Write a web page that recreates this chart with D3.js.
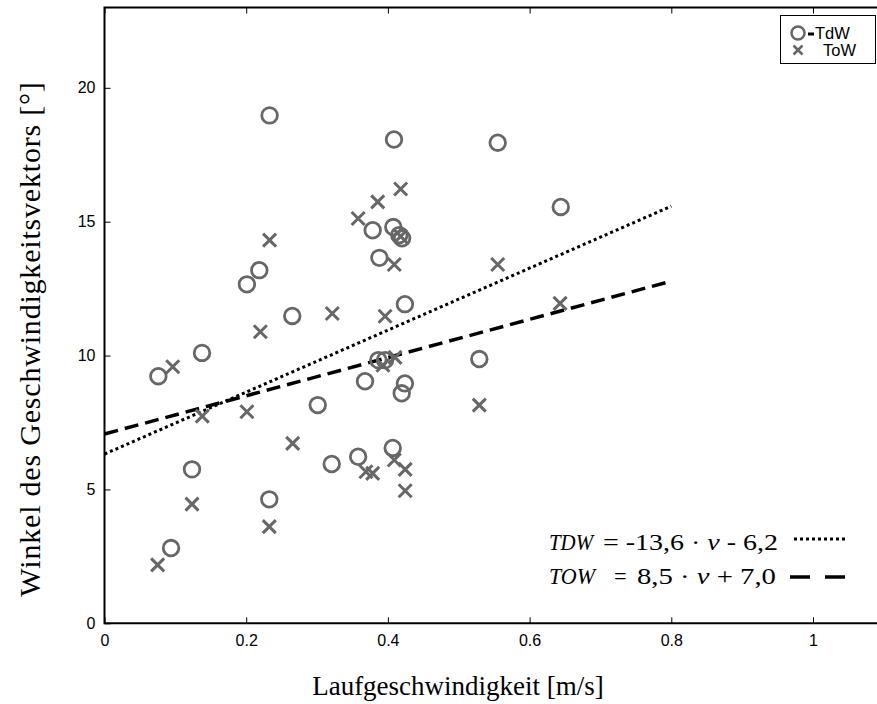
<!doctype html>
<html>
<head>
<meta charset="utf-8"/>
<title>Winkel des Geschwindigkeitsvektors</title>
<script src="https://d3js.org/d3.v7.min.js"></script>
<style>
  body { margin: 0; background: #fff; }
</style>
</head>
<body>
<div id="chart"></div>
<script>
  // TdW (Kreise): Laufgeschwindigkeit [m/s], Winkel [°]
  var tdwV = [0.233, 0.2185, 0.201, 0.4086, 0.555, 0.3785, 0.4076, 0.416, 0.420, 0.644,
              0.388, 0.424, 0.265, 0.1376, 0.076, 0.301, 0.3207, 0.1235, 0.2326, 0.0939,
              0.3865, 0.396, 0.529, 0.3677, 0.424, 0.4195, 0.358, 0.4068];
  var tdwW = [18.97, 13.19, 12.66, 18.07, 17.95, 14.68, 14.80, 14.50, 14.38, 15.55,
              13.65, 11.92, 11.48, 10.10, 9.23, 8.15, 5.95, 5.75, 4.63, 2.81,
              9.83, 9.83, 9.87, 9.04, 8.96, 8.59, 6.22, 6.55];

  // ToW (Kreuze)
  var towV = [0.233, 0.418, 0.3856, 0.358, 0.409, 0.555, 0.643, 0.3215, 0.22, 0.0963,
              0.138, 0.201, 0.2656, 0.1235, 0.2326, 0.075, 0.396, 0.41, 0.393, 0.529,
              0.369, 0.3785, 0.4244, 0.4244, 0.409, 0.418];
  var towW = [14.31, 16.22, 15.74, 15.12, 13.40, 13.40, 11.95, 11.57, 10.89, 9.58,
              7.74, 7.90, 6.72, 4.45, 3.61, 2.18, 11.47, 9.93, 9.64, 8.15,
              5.66, 5.60, 5.75, 4.95, 6.10, 14.45];

  // Regressionsgeraden (Endpunkte wie im Bild)
  var fitV = [0, 0.8];
  var tdwFit = [6.32, 15.58];
  var towFit = [7.07, 12.78];

  var xTicks = [0, 0.2, 0.4, 0.6, 0.8, 1];
  var yTicks = [0, 5, 10, 15, 20];

  var W = 877, H = 704;
  var mLeft = 104.5, mTop = 7.5, mBottom = 623.3;
  var grau = "#676767";

  var svg = d3.select("#chart").append("svg")
      .attr("width", W)
      .attr("height", H);

  var x = d3.scaleLinear().domain([0, 1.1]).range([mLeft, mLeft + 1.1 * 708.5]);
  var y = d3.scaleLinear().domain([0, 23]).range([mBottom, mTop]);

  // Achsen (Ticks nach innen)
  var ax = svg.append("g")
      .attr("transform", "translate(0," + mBottom + ")")
      .call(d3.axisBottom(x).tickValues(xTicks).tickSizeInner(-6).tickSizeOuter(0).tickPadding(9)
            .tickFormat(function(d) { return d3.format("~g")(d); }));
  var axTop = svg.append("g")
      .attr("transform", "translate(0," + mTop + ")")
      .call(d3.axisTop(x).tickValues(xTicks).tickSizeInner(-6).tickSizeOuter(0).tickFormat(""));
  var ay = svg.append("g")
      .attr("transform", "translate(" + mLeft + ",0)")
      .call(d3.axisLeft(y).tickValues(yTicks).tickSizeInner(-6).tickSizeOuter(0).tickPadding(9));

  [ax, axTop, ay].forEach(function(g) {
    g.attr("font-size", null).attr("font-family", null);
    g.select(".domain").remove();
    g.selectAll("line").attr("stroke", "#000").attr("stroke-width", 1);
    g.selectAll("text")
      .attr("font-family", "Liberation Sans, Arial, sans-serif")
      .attr("font-size", 16)
      .attr("fill", "#000");
  });
  ax.selectAll("text").attr("dy", "0.85em");

  // Rahmen
  svg.append("path")
    .attr("d", "M" + x(1.1) + "," + mTop + "H" + mLeft + "V" + mBottom + "H" + x(1.1))
    .attr("fill", "none")
    .attr("stroke", "#000")
    .attr("stroke-width", 2);

  // Regressionslinien
  var line = d3.line()
      .x(function(d) { return x(d[0]); })
      .y(function(d) { return y(d[1]); });

  svg.append("path")
    .datum(fitV.map(function(v, i) { return [v, tdwFit[i]]; }))
    .attr("d", line)
    .attr("fill", "none")
    .attr("stroke", "#000")
    .attr("stroke-width", 3)
    .attr("stroke-dasharray", "3,3");

  svg.append("path")
    .datum(fitV.map(function(v, i) { return [v, towFit[i]]; }))
    .attr("d", line)
    .attr("fill", "none")
    .attr("stroke", "#000")
    .attr("stroke-width", 3.5)
    .attr("stroke-dasharray", "14,7");

  // Kreise (TdW)
  svg.append("g").selectAll("circle")
    .data(tdwV)
    .enter().append("circle")
    .attr("cx", function(d) { return x(d); })
    .attr("cy", function(d, i) { return y(tdwW[i]); })
    .attr("r", 7.8)
    .attr("fill", "none")
    .attr("stroke", grau)
    .attr("stroke-width", 2.8);

  // Kreuze (ToW)
  function kreuz(g, cx, cy, s, sw) {
    g.append("path")
      .attr("d", "M" + (cx - s) + "," + (cy - s) + "L" + (cx + s) + "," + (cy + s) +
                 "M" + (cx - s) + "," + (cy + s) + "L" + (cx + s) + "," + (cy - s))
      .attr("stroke", grau)
      .attr("stroke-width", sw)
      .attr("fill", "none");
  }
  var gk = svg.append("g");
  towV.forEach(function(v, i) { kreuz(gk, x(v), y(towW[i]), 6.5, 3); });

  // Legende
  var lg = svg.append("g");
  lg.append("rect")
    .attr("x", 780.5).attr("y", 15.5).attr("width", 95).attr("height", 48)
    .attr("fill", "#fff").attr("stroke", "#000").attr("stroke-width", 1);
  lg.append("circle")
    .attr("cx", 798).attr("cy", 33).attr("r", 6.5)
    .attr("fill", "none").attr("stroke", grau).attr("stroke-width", 2.5);
  lg.append("line")
    .attr("x1", 808).attr("x2", 814).attr("y1", 34).attr("y2", 34)
    .attr("stroke", "#000").attr("stroke-width", 3);
  kreuz(lg, 798, 50, 4.5, 2.5);
  lg.append("text").attr("x", 815).attr("y", 39).text("TdW");
  lg.append("text").attr("x", 823).attr("y", 56).text("ToW");
  lg.selectAll("text")
    .attr("font-family", "Liberation Sans, Arial, sans-serif")
    .attr("font-size", 16.5);

  // Gleichungen
  var serif = "Liberation Serif, Times New Roman, serif";
  var eq = svg.append("g").attr("font-family", serif).attr("font-size", 22.5);

  eq.append("text").attr("x", 549).attr("y", 550)
    .attr("font-style", "italic")
    .attr("textLength", 44).attr("lengthAdjust", "spacingAndGlyphs")
    .text("TDW");
  var t1 = eq.append("text").attr("x", 603).attr("y", 550)
    .attr("textLength", 175).attr("lengthAdjust", "spacingAndGlyphs");
  t1.append("tspan").text("= -13,6 · ");
  t1.append("tspan").attr("font-style", "italic").text("v");
  t1.append("tspan").text(" - 6,2");

  eq.append("text").attr("x", 549).attr("y", 584)
    .attr("font-style", "italic")
    .attr("textLength", 46).attr("lengthAdjust", "spacingAndGlyphs")
    .text("TOW");
  eq.append("text").attr("x", 614).attr("y", 584).text("=");
  var t2 = eq.append("text").attr("x", 637).attr("y", 584)
    .attr("textLength", 139).attr("lengthAdjust", "spacingAndGlyphs");
  t2.append("tspan").text("8,5 · ");
  t2.append("tspan").attr("font-style", "italic").text("v");
  t2.append("tspan").text(" + 7,0");

  svg.append("line")
    .attr("x1", 794).attr("x2", 845).attr("y1", 539).attr("y2", 539)
    .attr("stroke", "#000").attr("stroke-width", 3).attr("stroke-dasharray", "3,3");
  svg.append("line")
    .attr("x1", 790).attr("x2", 845).attr("y1", 577).attr("y2", 577)
    .attr("stroke", "#000").attr("stroke-width", 3.5).attr("stroke-dasharray", "20,15");

  // Achsentitel
  svg.append("text")
    .attr("x", 458).attr("y", 695)
    .attr("text-anchor", "middle")
    .attr("font-family", serif)
    .attr("font-size", 27)
    .text("Laufgeschwindigkeit [m/s]");

  svg.append("text")
    .attr("transform", "translate(40,339) rotate(-90)")
    .attr("text-anchor", "middle")
    .attr("font-family", serif)
    .attr("font-size", 30)
    .attr("letter-spacing", 0.8)
    .text("Winkel des Geschwindigkeitsvektors [°]");
</script>
</body>
</html>
